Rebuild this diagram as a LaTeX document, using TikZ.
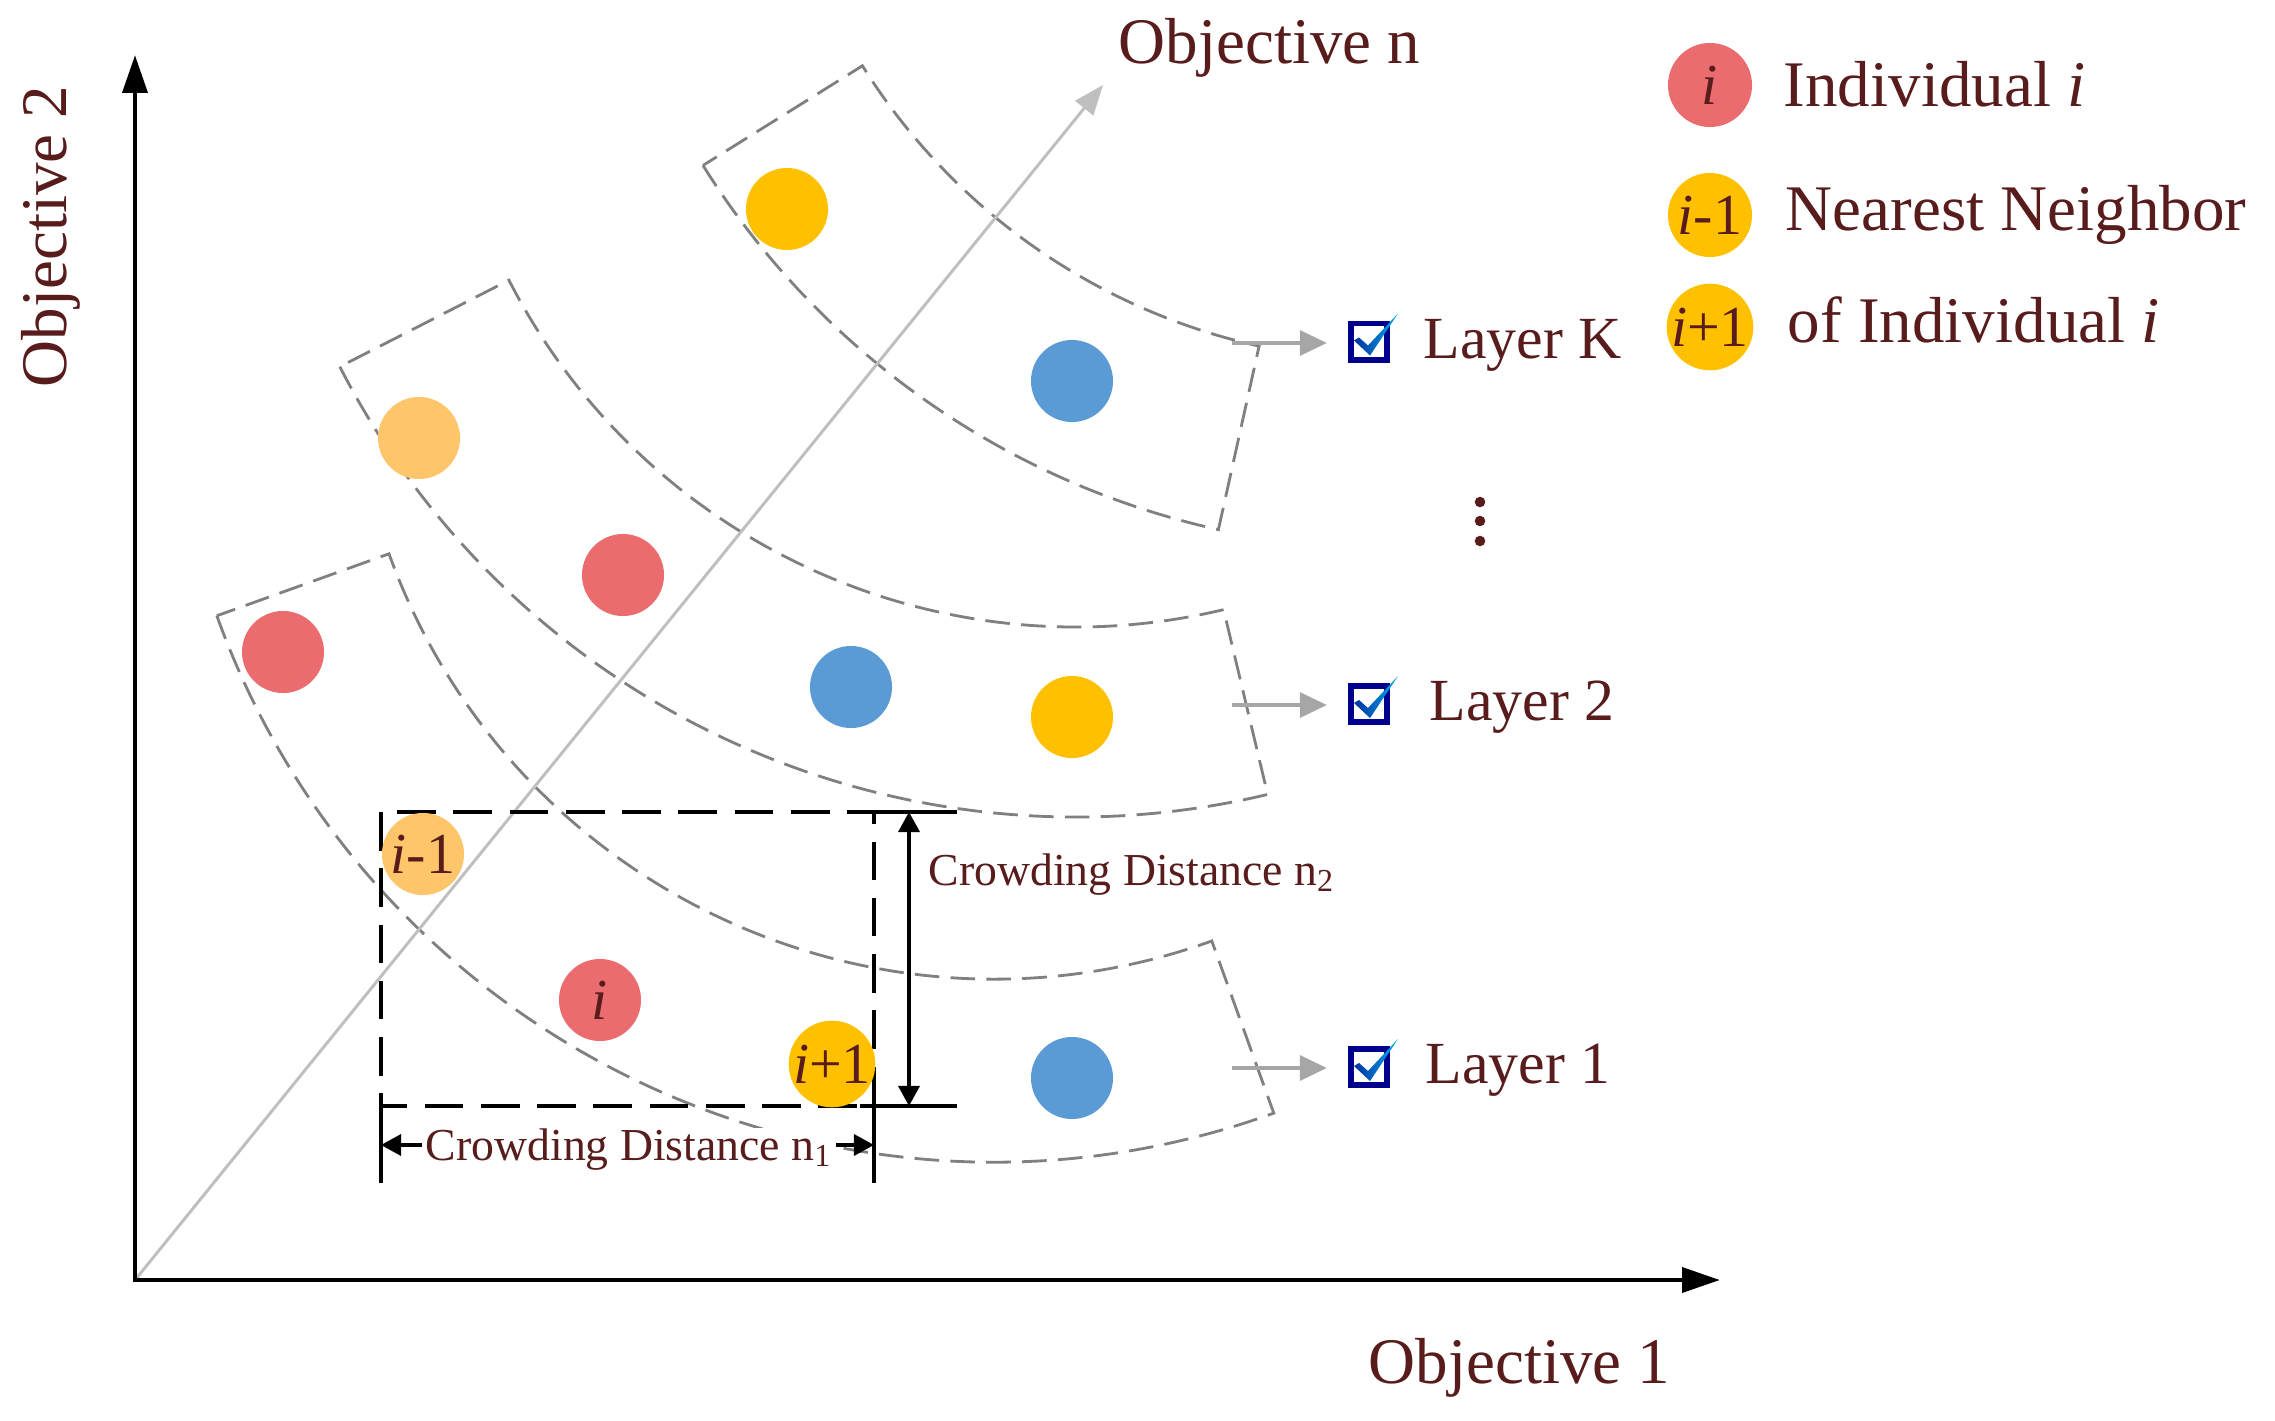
\documentclass[tikz,border=0pt]{standalone}
\usepackage{fontspec}
\setmainfont{Liberation Serif}
\usetikzlibrary{arrows.meta,calc}
\definecolor{txt}{RGB}{88,28,28}
\definecolor{cred}{RGB}{234,108,110}
\definecolor{cyel}{RGB}{255,192,0}
\definecolor{corg}{RGB}{255,197,106}
\definecolor{cblu}{RGB}{91,155,213}
\definecolor{bandgray}{RGB}{128,128,128}
\definecolor{axgray}{RGB}{191,191,191}
\definecolor{arrgray}{RGB}{166,166,166}
\definecolor{navybox}{RGB}{0,0,140}
\definecolor{tickdark}{RGB}{0,50,160}
\definecolor{ticklight}{RGB}{0,170,235}
\newcommand{\checktick}[1]{%
  \begin{scope}[shift={(#1.center)}]
    \shade[left color=tickdark, right color=ticklight]
      (-15,-1) -- (-10,-4) -- (-1,4) -- (29,-28) -- (1,14) -- cycle;
  \end{scope}}
\begin{document}
\begin{tikzpicture}[x=0.01cm,y=-0.01cm,
  big/.style={text=txt, font=\fontsize{18.5}{22}\selectfont, inner sep=0pt},
  laylab/.style={text=txt, font=\fontsize{17}{20}\selectfont, inner sep=0pt, anchor=base west},
  cdlab/.style={text=txt, font=\fontsize{13}{15}\selectfont, inner sep=0pt},
  dot/.style={circle, minimum size=0.82cm, inner sep=0pt, text=txt, font=\fontsize{16.5}{18}\selectfont},
  band/.style={draw=bandgray, line width=0.8pt, dash pattern=on 7pt off 3.2pt},
  axis/.style={line width=1.4pt, line join=miter, {Triangle[length=10.8pt,width=7pt]}-{Triangle[length=10.8pt,width=7pt]}},
  diag/.style={draw=axgray, line width=0.85pt, -{Triangle[length=8.5pt,width=6.5pt]}},
  layarrow/.style={draw=arrgray, line width=1.2pt, -{Triangle[length=7.7pt,width=7pt]}, shorten >=0.21cm},
  cbox/.style={draw=navybox, line width=1.7pt, minimum size=0.36cm, inner sep=0pt, fill=white},
  rectd/.style={line width=1.3pt, dash pattern=on 11pt off 5pt},
  dim/.style={line width=0.9pt, {Triangle[length=5.7pt,width=6pt]}-{Triangle[length=5.7pt,width=6pt]}},
  ext/.style={line width=0.9pt}]
\useasboundingbox (0,0) rectangle (2275,1421);

% layer bands (annular sectors)
\coordinate (c1) at (994,336);
\coordinate (c2) at (1076,-10);
\coordinate (cK) at (1395,-267);
\draw[band] ($(c1)+(160.2:826)$) arc[start angle=160.2, end angle=70.2, radius=826]
  -- ($(c1)+(70.2:643)$) arc[start angle=70.2, end angle=160.2, radius=643] -- cycle;
\draw[band] ($(c2)+(152.9:827)$) arc[start angle=152.9, end angle=76.6, radius=827]
  -- ($(c2)+(76.6:637)$) arc[start angle=76.6, end angle=152.9, radius=637] -- cycle;
\draw[band] ($(cK)+(148:816)$) arc[start angle=148, end angle=102.5, radius=816]
  -- ($(cK)+(102.5:628)$) arc[start angle=102.5, end angle=148, radius=628] -- cycle;

% axes
\coordinate (O) at (135,1280);
\coordinate (Ytip) at (135,55);
\coordinate (Xtip) at (1720,1280);
\coordinate (Ntip) at (1103,85);
\draw[diag] (O) -- (Ntip);
\draw[axis] (Ytip) -- (O) -- (Xtip);

\node[big, anchor=base west] (objn) at (1118,63) {Objective n};
\node[big, anchor=base west] (obj1) at (1368,1383) {Objective 1};
\node[big, anchor=base west, rotate=90] (obj2) at (66,388) {Objective 2};

% crowding distance box
\coordinate (rTL) at (381,812);
\coordinate (rBR) at (874,1106);
\draw[rectd] (rTL) rectangle (rBR);
\coordinate (tR) at (957,812);
\coordinate (bL) at (860,1106);
\coordinate (bR) at (957,1106);
\coordinate (eL) at (381,1183);
\coordinate (eR) at (874,1183);
\draw[ext] (rBR |- rTL) -- (tR);
\draw[ext] (bL) -- (bR);
\draw[ext] (rTL |- rBR) -- (eL);
\draw[ext] (rBR) -- (eR);
\coordinate (v1) at (909,812);
\coordinate (v2) at (909,1106);
\draw[dim] (v1) -- (v2);
\coordinate (h1) at (381,1145);
\coordinate (h2) at (874,1145);
\draw[dim] (h1) -- (h2);
\node[cdlab, anchor=base west] (cd2) at (928,885) {Crowding Distance n\textsubscript{2}};
\node[cdlab, anchor=base, fill=white, inner xsep=1pt] (cd1) at (629,1160) {Crowding Distance n\textsubscript{1}};

% individuals
\node[dot, fill=cyel] (kY) at (787,209) {};
\node[dot, fill=cblu] (kB) at (1072,381) {};
\node[dot, fill=corg] (l2O) at (419,438) {};
\node[dot, fill=cred] (l2R) at (623,575) {};
\node[dot, fill=cblu] (l2B) at (851,687) {};
\node[dot, fill=cyel] (l2Y) at (1072,717) {};
\node[dot, fill=cred] (l1R) at (283,652) {};
\node[dot, fill=corg] (l1a) at (423,854) {\textit{i}-1};
\node[dot, fill=cred] (l1i) at (600,1000) {\textit{i}};
\node[dot, fill=cyel] (l1b) at (832,1064) {\textit{i}+1};
\node[dot, fill=cblu] (l1B) at (1072,1078) {};

% layer labels
\node[cbox] (cbK) at (1369,341.5) {};
\node[cbox] (cb2) at (1369,704) {};
\node[cbox] (cb1) at (1369,1067) {};
\checktick{cbK}
\checktick{cb2}
\checktick{cb1}
\coordinate (aK) at (1232,343);
\coordinate (a2) at (1232,705);
\coordinate (a1) at (1232,1068);
\draw[layarrow] (aK) -- (aK -| cbK.west);
\draw[layarrow] (a2) -- (a2 -| cb2.west);
\draw[layarrow] (a1) -- (a1 -| cb1.west);
\node[laylab] (lK) at (1423,358) {Layer K};
\node[laylab] (l2) at (1429,720) {Layer 2};
\node[laylab] (l1) at (1425,1083) {Layer 1};
\fill[txt] (1480,502) circle[radius=1.5pt];
\fill[txt] (1480,521) circle[radius=1.5pt];
\fill[txt] (1480,541) circle[radius=1.5pt];

% legend
\node[dot, fill=cred, minimum size=0.84cm] (lgA) at (1710,85) {\textit{i}};
\node[dot, fill=cyel, minimum size=0.84cm] (lgB) at (1710,215) {\textit{i}-1};
\node[dot, fill=cyel, minimum size=0.84cm] (lgC) at (1710,327) {\textit{i}+1};
\node[big, anchor=base west] (lt1) at (1783,106) {Individual \textit{i}};
\node[big, anchor=base west] (lt2) at (1785,230) {Nearest Neighbor};
\node[big, anchor=base west] (lt3) at (1787,342) {of Individual \textit{i}};
\end{tikzpicture}
\end{document}
